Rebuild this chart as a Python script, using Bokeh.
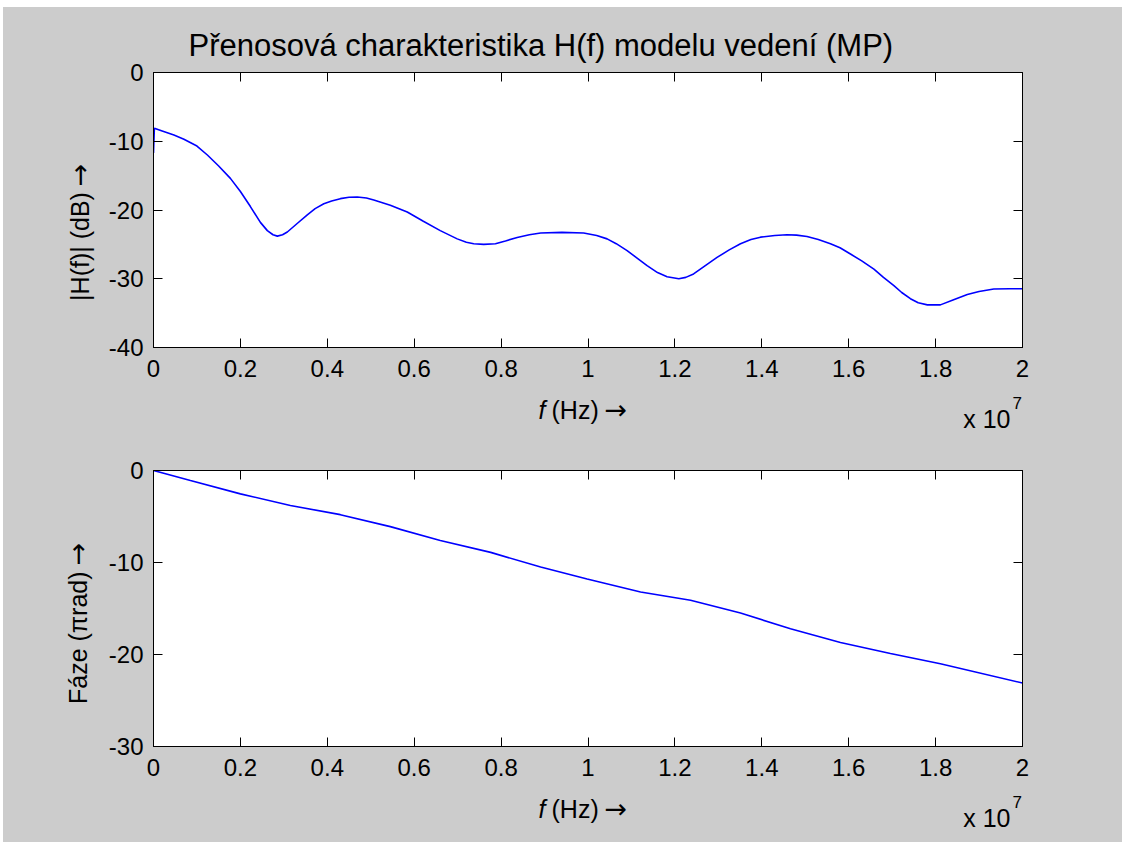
import math
from bokeh.plotting import figure
from bokeh.models import (Range1d, FixedTicker, LinearAxis, CustomJSTickFormatter, Spacer)
from bokeh.layouts import column, row
from bokeh.core.properties import value
from bokeh.embed import file_html
from bokeh.resources import INLINE

# ---------------- data (frequency in units of 1e7 Hz) ----------------
mag_f = [0.0, 0.002, 0.02, 0.047, 0.07, 0.10, 0.124, 0.15, 0.177, 0.200,
         0.223, 0.246, 0.262, 0.275, 0.285, 0.297, 0.308, 0.33, 0.354, 0.372,
         0.392, 0.41, 0.43, 0.45, 0.469, 0.49, 0.507, 0.545, 0.584, 0.62,
         0.66, 0.699, 0.72, 0.737, 0.76, 0.787, 0.81, 0.837, 0.865, 0.891,
         0.94, 0.99, 1.02, 1.044, 1.065, 1.09, 1.113, 1.136, 1.16, 1.182,
         1.209, 1.225, 1.243, 1.27, 1.297, 1.325, 1.351, 1.375, 1.397, 1.43,
         1.458, 1.48, 1.504, 1.53, 1.558, 1.58, 1.604, 1.63, 1.658, 1.68,
         1.704, 1.722, 1.742, 1.76, 1.781, 1.811, 1.84, 1.873, 1.90, 1.934,
         1.97, 2.0]
mag_db = [-11.7, -8.1, -8.5, -9.1, -9.7, -10.7, -12.0, -13.6, -15.4, -17.3,
          -19.5, -21.8, -23.0, -23.6, -23.8, -23.6, -23.2, -22.0, -20.7, -19.8,
          -19.1, -18.7, -18.35, -18.15, -18.1, -18.25, -18.55, -19.3, -20.3, -21.6,
          -23.0, -24.2, -24.7, -24.9, -25.0, -24.9, -24.5, -24.0, -23.6, -23.35,
          -23.25, -23.35, -23.7, -24.2, -24.9, -25.9, -27.0, -28.1, -29.1, -29.7,
          -30.0, -29.8, -29.3, -28.1, -26.9, -25.8, -24.9, -24.3, -23.95, -23.7,
          -23.6, -23.65, -23.85, -24.3, -24.9, -25.5, -26.4, -27.4, -28.6, -29.8,
          -31.0, -32.0, -32.9, -33.5, -33.8, -33.8, -33.1, -32.3, -31.85, -31.5,
          -31.45, -31.45]

ph_f = [0.0, 0.085, 0.200, 0.315, 0.430, 0.545, 0.660, 0.776, 0.891, 0.998,
        1.121, 1.236, 1.351, 1.466, 1.581, 1.696, 1.811, 2.000]
ph_val = [0.0, -1.09, -2.54, -3.8, -4.8, -6.1, -7.6, -8.9, -10.5, -11.8,
          -13.2, -14.1, -15.5, -17.2, -18.7, -19.9, -21.0, -23.1]

x_ticks_1e7 = [0, 0.2, 0.4, 0.6, 0.8, 1.0, 1.2, 1.4, 1.6, 1.8, 2.0]
mag_yticks = [-40, -30, -20, -10, 0]
ph_yticks = [-30, -20, -10, 0]

title_text = "Přenosová charakteristika H(f) modelu vedení (MP)"
mag_ylabel = "|H(f)| (dB)"
ph_ylabel = "Fáze (πrad)"
arrow = "→"
xlabel_var = "f"
xlabel_unit = "(Hz)"
exp_base = "x 10"
exp_pow = "7"

SCALE = 1e7
FONT = "Liberation Sans"
ARROW_FONT = "DejaVu Sans"
GRAY = "#cccccc"

xt = [v * SCALE for v in x_ticks_1e7]
xfmt = CustomJSTickFormatter(code="return Number((tick/1e7).toFixed(1)).toString();")
yfmt = CustomJSTickFormatter(code="return tick.toString();")
blank = CustomJSTickFormatter(code="return '';")

# page layout (pixels)
X0, Y0 = 3, 7             # white margin seen in reference
LSTRIP_R = 100            # right edge of y-label strip
FRAME_L, FRAME_R = 153, 1022
PAGE_R = 1122
P_TOP1, FRAME_H1 = 65, 275
P_TOP2, FRAME_H2 = 30, 276
P_BOT = 44


def strip(x0, x1, y0, y1):
    s = figure(width=x1 - x0, height=y1 - y0,
               x_range=Range1d(x0, x1), y_range=Range1d(y1, y0),
               output_backend="svg", toolbar_location=None,
               min_border=0, x_axis_location=None, y_axis_location=None)
    s.border_fill_color = GRAY
    s.background_fill_color = GRAY
    s.outline_line_color = None
    s.grid.visible = False
    return s


def make_panel(fx, fy, ylo, yticks, top_b, frame_h, title=None):
    p = figure(width=PAGE_R - LSTRIP_R, height=top_b + frame_h + P_BOT,
               x_range=Range1d(0, 2 * SCALE), y_range=Range1d(ylo, 0),
               output_backend="svg", toolbar_location=None,
               min_border_left=FRAME_L - LSTRIP_R, min_border_right=PAGE_R - FRAME_R,
               min_border_top=top_b, min_border_bottom=P_BOT,
               x_axis_location=None, y_axis_location=None)
    p.border_fill_color = GRAY
    p.background_fill_color = "white"
    p.outline_line_color = "black"
    p.grid.visible = False

    def style(ax, labels=True):
        ax.major_tick_in = 9
        ax.major_tick_out = 0
        ax.minor_tick_line_color = None
        ax.axis_line_color = "black"
        ax.major_tick_line_color = "black"
        ax.major_label_text_font = FONT
        ax.major_label_text_font_size = "24px" if labels else "0px"
        ax.major_label_text_color = "black"
        if not labels:
            ax.major_label_standoff = 0

    xb = LinearAxis(ticker=FixedTicker(ticks=xt), formatter=xfmt)
    style(xb)
    xb.major_label_standoff = 12
    p.add_layout(xb, "below")
    xa = LinearAxis(ticker=FixedTicker(ticks=xt), formatter=blank)
    style(xa, False)
    p.add_layout(xa, "above")

    yl = LinearAxis(ticker=FixedTicker(ticks=yticks), formatter=yfmt)
    style(yl)
    yl.major_label_standoff = 10
    p.add_layout(yl, "left")
    yr = LinearAxis(ticker=FixedTicker(ticks=yticks), formatter=blank)
    style(yr, False)
    p.add_layout(yr, "right")

    p.line([v * SCALE for v in fx], fy, line_color="#0000ff", line_width=1.6)

    if title:
        p.title.text = title
        p.title.text_font = FONT
        p.title.text_font_size = "31px"
        p.title.text_font_style = "normal"
        p.title.text_color = "black"
        p.title.align = "left"
        p.title.offset = 35
        p.title.standoff = 20
    return p


def ylabel_strip(y0, y1, text, split_y, xc):
    s = strip(X0, LSTRIP_R, y0, y1)
    s.text(x=[xc], y=[split_y], text=[text], angle=math.pi / 2,
           text_font=value(FONT), text_font_size=value("25px"),
           text_align="right", text_baseline="middle", text_color="black")
    s.text(x=[xc], y=[split_y - 8], text=[arrow], angle=math.pi / 2,
           text_font=value(ARROW_FONT), text_font_size=value("27px"),
           text_align="left", text_baseline="middle", text_color="black")
    return s


def xlabel_strip(y0, y1, yc_label, yc_exp, yc_pow):
    s = strip(X0, PAGE_R, y0, y1)
    s.text(x=[545], y=[yc_label], text=[xlabel_var], text_font=value(FONT),
           text_font_style="italic", text_font_size=value("25px"),
           text_align="right", text_baseline="middle", text_color="black")
    s.text(x=[551], y=[yc_label], text=[xlabel_unit], text_font=value(FONT),
           text_font_size=value("25px"),
           text_align="left", text_baseline="middle", text_color="black")
    s.text(x=[604], y=[yc_label], text=[arrow], text_font=value(ARROW_FONT),
           text_font_size=value("27px"),
           text_align="left", text_baseline="middle", text_color="black")
    s.text(x=[1010], y=[yc_exp], text=[exp_base], text_font=value(FONT),
           text_font_size=value("25px"),
           text_align="right", text_baseline="middle", text_color="black")
    s.text(x=[1012], y=[yc_pow], text=[exp_pow], text_font=value(FONT),
           text_font_size=value("17px"),
           text_align="left", text_baseline="middle", text_color="black")
    return s


# vertical page coordinates
p1_y0 = Y0
p1_y1 = p1_y0 + P_TOP1 + FRAME_H1 + P_BOT
s1_y1 = 440
p2_y1 = s1_y1 + P_TOP2 + FRAME_H2 + P_BOT
s2_y1 = 842

P1 = make_panel(mag_f, mag_db, -40, mag_yticks, P_TOP1, FRAME_H1, title=title_text)
P2 = make_panel(ph_f, ph_val, -30, ph_yticks, P_TOP2, FRAME_H2)
L1 = ylabel_strip(p1_y0, p1_y1, mag_ylabel, 174, 79)
L2 = ylabel_strip(s1_y1, p2_y1, ph_ylabel, 568, 77)
S1 = xlabel_strip(p1_y1, s1_y1, 409, 418, 402)
S2 = xlabel_strip(p2_y1, s2_y1, 808, 817, 801)

gray_bg = {"background-color": GRAY}
grid = column(row(L1, P1, styles=gray_bg), S1, row(L2, P2, styles=gray_bg), S2,
              styles=gray_bg)
layout = column(Spacer(width=PAGE_R, height=Y0),
                row(Spacer(width=X0, height=s2_y1 - Y0), grid))
open("out.html", "w").write(file_html(layout, INLINE))
